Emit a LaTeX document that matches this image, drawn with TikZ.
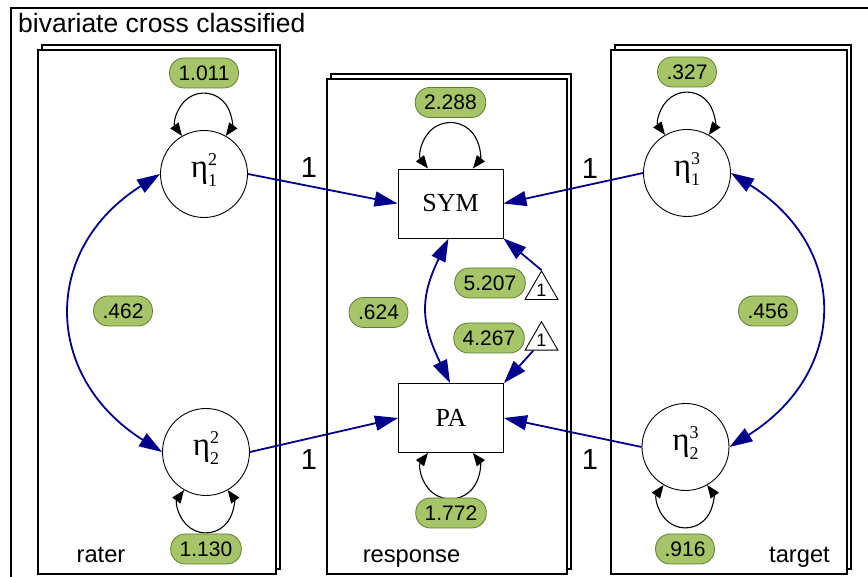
\documentclass[tikz,border=0pt]{standalone}
\usepackage{fontspec}
\setmainfont{Liberation Serif}
\newfontfamily\sansf{Liberation Sans}
\usetikzlibrary{arrows.meta,shapes.geometric,calc}
\definecolor{navyc}{RGB}{0,0,139}
\definecolor{estfill}{RGB}{166,196,104}
\definecolor{estline}{RGB}{95,125,50}
\newcommand\latname[2]{{\fontsize{33}{33}\selectfont η}\rlap{\raisebox{12pt}{\fontsize{18}{18}\selectfont #1}}\raisebox{-9pt}{\fontsize{18}{18}\selectfont #2}}
\tikzset{
  plate/.style={draw, line width=1.8pt, fill=white},
  latent/.style={circle, draw, fill=white, line width=0.9pt, minimum size=87pt, inner sep=0pt, text height=15pt, text depth=7pt},
  obs/.style={rectangle, draw, fill=white, line width=0.9pt, minimum width=105pt, minimum height=69pt, inner sep=0pt, font=\fontsize{26}{26}\selectfont},
  est/.style={draw=estline, fill=estfill, line width=0.8pt, rounded corners=14.5pt, inner xsep=9pt, inner ysep=0pt, minimum height=30pt, text height=14.9pt, text depth=0pt, font=\sansf\fontsize{21}{21}\selectfont},
  onelab/.style={inner sep=0pt, font=\sansf\fontsize{29}{29}\selectfont},
  platelabel/.style={inner sep=0pt, anchor=base, font=\sansf\fontsize{23.7}{23.7}\selectfont},
  reg/.style={draw=navyc, line width=1.8pt, -{Triangle[length=23pt,width=15pt]}},
  cov/.style={draw=navyc, line width=1.8pt, {Triangle[length=23pt,width=15pt]}-{Triangle[length=23pt,width=15pt]}},
  varloop/.style={draw, line width=1.1pt, {Triangle[length=13pt,width=10pt]}-{Triangle[length=13pt,width=10pt]}},
  constant/.style={regular polygon, regular polygon sides=3, draw, fill=white, line width=0.9pt, minimum size=38pt, inner sep=0pt, font=\sansf\fontsize{18}{18}\selectfont},
}
\begin{document}
\begin{tikzpicture}[x=1pt,y=1pt]
\useasboundingbox (0,0) rectangle (868,577);
\clip (0,0) rectangle (868,577);
\fill[white] (0,0) rectangle (868,577);
% outer frame
\draw[line width=1.8pt] (11,-20) rectangle (890,569);
\node[anchor=base west, inner sep=0pt, font=\sansf\fontsize{26.5}{26.5}\selectfont] (title) at (18,544) {bivariate cross classified};
% plates
\draw[plate] (42,8) rectangle (280,532);
\draw[plate] (38,3) rectangle (276,527);
\draw[plate] (331,8) rectangle (571,503);
\draw[plate] (327,3) rectangle (567,498);
\draw[plate] (615,8) rectangle (851,532);
\draw[plate] (611,3) rectangle (847,527);
\node[platelabel] (lrater) at (101,14.5) {rater};
\node[platelabel] (lresp) at (411.5,14.5) {response};
\node[platelabel] (ltarget) at (799.5,14.5) {target};
% nodes
\node[latent] (e21) at (204,403) {\latname{2}{1}};
\node[latent] (e22) at (206,125) {\latname{2}{2}};
\node[latent] (e31) at (687,404) {\latname{3}{1}};
\node[latent] (e32) at (685.5,130) {\latname{3}{2}};
\node[obs] (sym) at (450.5,373.5) {SYM};
\node[obs] (pa) at (451,159) {PA};
\node[constant] (tri1) at (541.5,287) {1};
\node[constant] (tri2) at (541.5,236.3) {1};
% regressions
\draw[reg] (e21.east) -- (sym.west);
\draw[reg] (e22.east) -- (pa.west);
\draw[reg] (e31.west) -- (sym.east);
\draw[reg] (e32.west) -- (pa.east);
\draw[reg] (tri1.corner 1) -- (sym.south east);
\draw[reg] ([xshift=9pt]tri2.corner 2) -- (pa.north east);
% covariances
\draw[cov] (e21.west) .. controls +(-119,-75) and +(-119,75) .. (e22.west);
\draw[cov] ([xshift=-2pt]sym.south) .. controls +(-29,-60) and +(-29,60) .. ([xshift=-1pt]pa.north);
\draw[cov] (e31.east) .. controls +(119,-75) and +(119,75) .. (e32.east);
% variances
\draw[varloop] (e21.120) arc[start angle=216, end angle=-36, radius=27];
\draw[varloop] (e31.120) arc[start angle=216, end angle=-36, radius=27];
\draw[varloop] (e22.240) arc[start angle=144, end angle=396, radius=27];
\draw[varloop] (e32.240) arc[start angle=144, end angle=396, radius=27];
\draw[varloop] ([xshift=-22.5pt]sym.north) arc[start angle=218, end angle=-38, radius=28.5];
\draw[varloop] ([xshift=-23pt]pa.south) arc[start angle=142, end angle=398, radius=28.5];
% estimates
\node[est] (v1011) at (204,504) {1.011};
\node[est] (v2288) at (450.5,474.5) {2.288};
\node[est] (v327) at (687,505) {.327};
\node[est] (c462) at (123,266) {.462};
\node[est] (c624) at (378.5,264.5) {.624};
\node[est] (c456) at (768,266) {.456};
\node[est] (m5207) at (490,294) {5.207};
\node[est] (m4267) at (489,239) {4.267};
\node[est] (v1130) at (206,28) {1.130};
\node[est] (v1772) at (451,64) {1.772};
\node[est] (v916) at (685,28) {.916};
% fixed loadings
\node[onelab] (f1) at (309,409) {1};
\node[onelab] (f2) at (309,117) {1};
\node[onelab] (f3) at (590,408) {1};
\node[onelab] (f4) at (590,117) {1};
\end{tikzpicture}
\end{document}
